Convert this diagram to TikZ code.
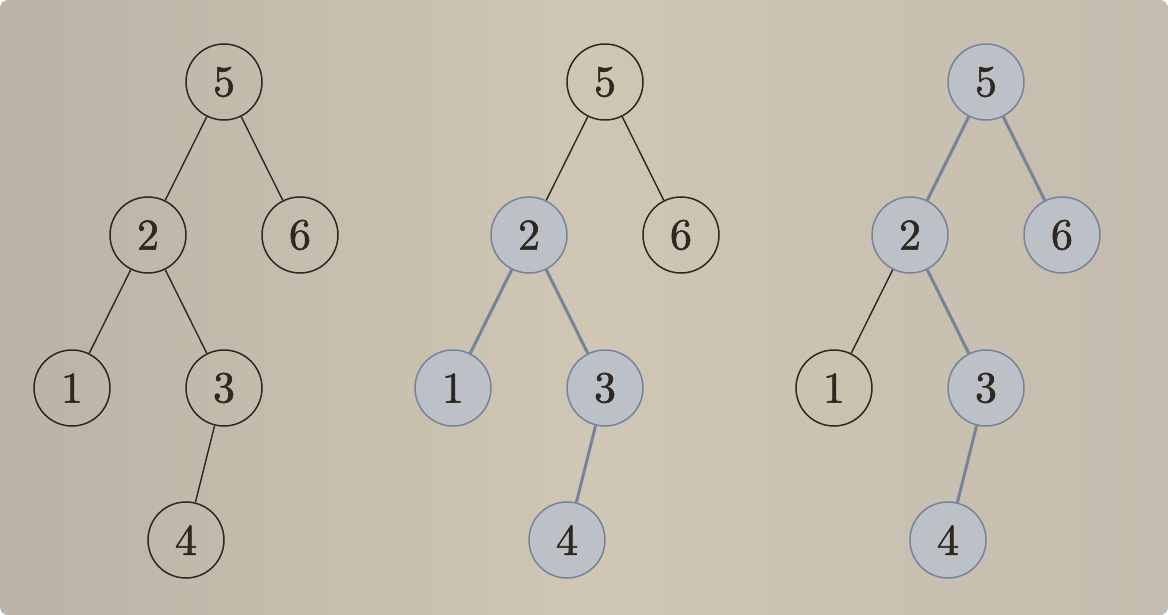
\documentclass[tikz,border=0pt]{standalone}
\usepackage{fontspec}
\newfontfamily\digitfont{lmroman10-regular.otf}[FakeBold=1.3]
\definecolor{Paper}{HTML}{CFC6B4}
\definecolor{PaperL}{HTML}{BAB3A6}
\definecolor{PaperR}{HTML}{C4BCAE}
\definecolor{Ink}{HTML}{2E2821}
\definecolor{Steel}{HTML}{76839A}
\definecolor{Mist}{HTML}{BCC1C7}
\begin{document}
\begin{tikzpicture}[x=1pt,y=-1pt,every node/.style={font=\digitfont\fontsize{44}{50}\selectfont,text=Ink},vert/.style={circle,draw=Ink,line width=1.5pt,minimum size=76pt,inner sep=0pt},hot/.style={circle,draw=Steel,fill=Mist,line width=1.5pt,minimum size=76pt,inner sep=0pt},edge/.style={draw=Ink,line width=1.4pt},hotedge/.style={draw=Steel,line width=3pt}]
\fill[white] (0,0) rectangle (1168,615);
\shade[left color=PaperL,right color=PaperR,middle color=Paper,rounded corners=8pt] (0,0) rectangle (1168,615);

% plain tree
\node[vert] (a5) at (224,82){5};
\node[vert] (a2) at (148,235){2};\node[vert] (a6) at (300,235){6};
\node[vert] (a1) at (72,388){1};\node[vert] (a3) at (224,388){3};
\node[vert] (a4) at (186,540){4};
\draw[edge] (a5)--(a2) (a5)--(a6) (a2)--(a1) (a2)--(a3) (a3)--(a4);

% subtree of 2 marked
\node[vert] (b5) at (605,82){5};
\node[hot] (b2) at (529,235){2};\node[vert] (b6) at (681,235){6};
\node[hot] (b1) at (453,388){1};\node[hot] (b3) at (605,388){3};
\node[hot] (b4) at (567,540){4};
\draw[edge] (b5)--(b2) (b5)--(b6);
\draw[hotedge] (b2)--(b1) (b2)--(b3) (b3)--(b4);

% path without 1
\node[hot] (c5) at (986,82){5};
\node[hot] (c2) at (910,235){2};\node[hot] (c6) at (1062,235){6};
\node[vert] (c1) at (834,388){1};\node[hot] (c3) at (986,388){3};
\node[hot] (c4) at (948,540){4};
\draw[edge] (c2)--(c1);
\draw[hotedge] (c5)--(c2) (c5)--(c6) (c2)--(c3) (c3)--(c4);
\end{tikzpicture}
\end{document}
